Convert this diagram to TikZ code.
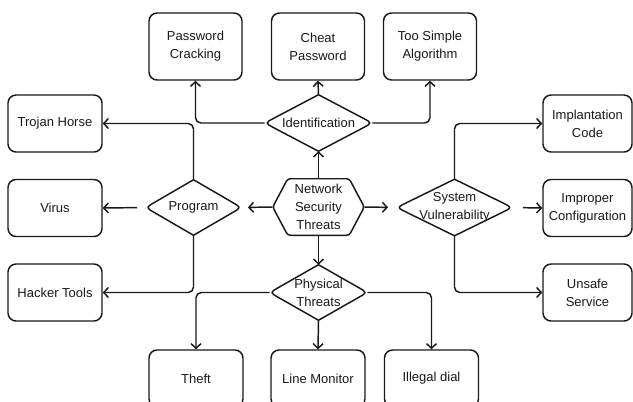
\documentclass[tikz,border=0pt]{standalone}
\usepackage{fontspec}
\setmainfont{Liberation Sans}
\usetikzlibrary{arrows.meta,calc}
\begin{document}
\begin{tikzpicture}[x=0.75pt,y=-0.75pt,
  font=\fontsize{9.75pt}{13.5pt}\selectfont,
  lw/.style={line width=1.1pt, color=black!90},
  box/.style 2 args={draw, lw, rounded corners=6pt, minimum width=#1, minimum height=#2, inner sep=0pt, align=center, text=black!90},
  shp/.style 2 args={minimum width=#1, minimum height=#2, inner sep=0pt, align=center, text=black!90},
  conn/.style={lw, -{Straight Barb[length=3.5pt,width=7.5pt]}, rounded corners=4pt}]
\fill[white] (0,0) rectangle (633,401);
\useasboundingbox (0,0) rectangle (633,401);
\clip (0,0) rectangle (633,401);

% top boxes
\node[box={69.75pt}{50.25pt}] (pc) at (195.5,46.5) {Password\\Cracking};
\node[box={69.75pt}{50.25pt}] (cp) at (318,46.5) {Cheat\\Password};
\node[box={69.75pt}{50.25pt}] (tsa) at (430,46.5) {Too Simple\\Algorithm};
% left boxes
\node[box={70.5pt}{42.75pt}] (troj) at (55,123.5) {Trojan Horse};
\node[box={70.5pt}{42.75pt}] (virus) at (55,208) {Virus};
\node[box={70.5pt}{42.75pt}] (hack) at (55,292.5) {Hacker Tools};
% right boxes
\node[box={66.75pt}{42.75pt}] (impl) at (587.5,123.5) {Implantation\\Code};
\node[box={66.75pt}{42.75pt}] (impr) at (587.5,208) {Improper\\Configuration};
\node[box={66.75pt}{42.75pt}] (unsafe) at (587.5,292.5) {Unsafe\\Service};
% bottom boxes
\node[box={70.5pt}{42.75pt}] (theft) at (196,378.5) {Theft};
\node[box={70.5pt}{42.75pt}] (lm) at (318,378.5) {Line Monitor};
\node[box={70.5pt}{42.75pt}] (idial) at (431.5,378.5) {Illegal dial};

% decision shapes (invisible nodes, outlines drawn below)
\node[shp={80.25pt}{42pt}] (ident) at (318.5,123) {Identification};
\node[shp={71.25pt}{41.25pt}] (prog) at (193.5,207.5) {Program};
\node[shp={68.25pt}{42pt}] (nst) at (318.5,207) {Network\\Security\\Threats};
\node[shp={86.25pt}{42pt}] (sv) at (454.5,207.5) {System\\Vulnerability};
\node[shp={72.75pt}{41.25pt}] (phys) at (318.5,292.5) {Physical\\Threats};

\foreach \n in {ident,prog,sv,phys}{
  \draw[lw, line join=round] (\n.north) -- ($(\n.north)!0.82!(\n.east)$)
    .. controls (\n.east) .. ($(\n.east)!0.18!(\n.south)$) -- (\n.south)
    -- ($(\n.south)!0.82!(\n.west)$) .. controls (\n.west) .. ($(\n.west)!0.18!(\n.north)$) -- cycle;
}
\draw[lw, rounded corners=2pt] (nst.west) -- ($(nst.north west)+(15,0)$) -- ($(nst.north east)+(-15,0)$)
  -- (nst.east) -- ($(nst.south east)+(-15,0)$) -- ($(nst.south west)+(15,0)$) -- cycle;

% connectors
\draw[conn] (nst.north) -- (ident.south);
\draw[conn] (nst.south) -- (phys.north);
\draw[conn, shorten >=5pt] (nst.west) -- (prog.east);
\draw[conn, shorten >=6.5pt] (nst.east) -- (sv.west);

\draw[conn] (ident.north) -- (cp.south);
\draw[conn] (ident.west) -| (pc.south);
\draw[conn] (ident.east) -| (tsa.south);

\draw[conn] (prog.north) |- (troj.east);
\draw[conn, shorten <=6.5pt] (prog.west) -- (virus.east);
\draw[conn] (prog.south) |- (hack.east);

\draw[conn] (sv.north) |- (impl.west);
\draw[conn, shorten <=8pt] (sv.east) -- (impr.west);
\draw[conn] (sv.south) |- (unsafe.west);

\draw[conn] (phys.west) -| (theft.north);
\draw[conn] (phys.south) -- (lm.north);
\draw[conn] (phys.east) -| (idial.north);
\end{tikzpicture}
\end{document}
